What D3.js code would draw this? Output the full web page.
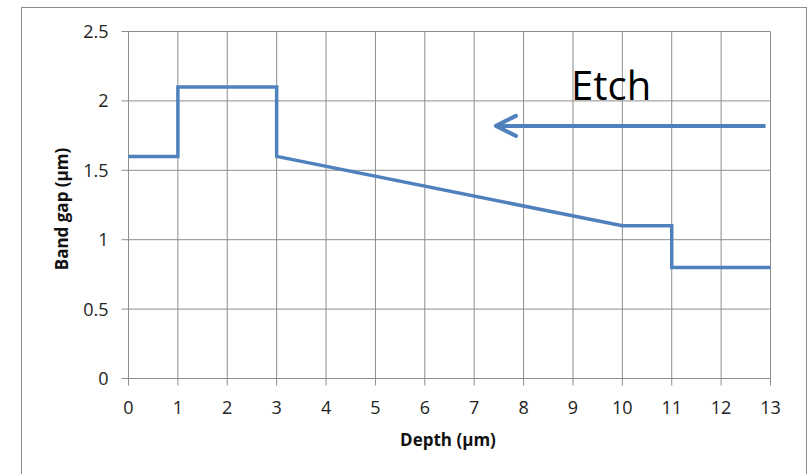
<!DOCTYPE html>
<html>
<head>
<meta charset="utf-8">
<script src="https://cdn.jsdelivr.net/npm/d3@7"></script>
<style>
  html, body { margin: 0; padding: 0; background: #fff; }
  svg { display: block; }
  .tick-label { font-family: "Open Sans", "Liberation Sans", sans-serif; font-size: 18px; fill: #222; }
  .axis-title { font-family: "Open Sans", "Liberation Sans", sans-serif; font-size: 17px; font-weight: bold; fill: #111; }
</style>
</head>
<body>
<script>
// Band gap profile versus depth
const depth = [0, 1, 1, 3, 3, 10, 11, 11, 13];
const bandGap = [1.6, 1.6, 2.1, 2.1, 1.6, 1.1, 1.1, 0.8, 0.8];
const xTicks = [0, 1, 2, 3, 4, 5, 6, 7, 8, 9, 10, 11, 12, 13];
const yTicks = [0, 0.5, 1, 1.5, 2, 2.5];
const yTickLabels = ["0", "0.5", "1", "1.5", "2", "2.5"];
const etchArrow = { from: 12.9, to: 7.4, level: 1.82 };

const W = 811, H = 474;
const svg = d3.select("body").append("svg").attr("width", W).attr("height", H);

// chart frame
svg.append("rect")
  .attr("x", 21.5).attr("y", 7.5).attr("width", 785).attr("height", 480)
  .attr("fill", "#fff").attr("stroke", "#8c8c8c").attr("stroke-width", 1);

const x = d3.scaleLinear().domain([0, 13]).range([128.5, 770.5]);
const y = d3.scaleLinear().domain([0, 2.5]).range([378.5, 31.5]);

const grid = svg.append("g").attr("stroke", "#8e8e8e").attr("stroke-width", 1);
grid.selectAll(".gx").data(xTicks).join("line")
  .attr("x1", d => x(d)).attr("x2", d => x(d))
  .attr("y1", y(2.5)).attr("y2", y(0) + 7);
grid.selectAll(".gy").data(yTicks).join("line")
  .attr("x1", x(0) - 7).attr("x2", x(13))
  .attr("y1", d => y(d)).attr("y2", d => y(d));

// y tick labels
svg.append("g").selectAll("text").data(yTicks).join("text")
  .attr("class", "tick-label")
  .attr("x", x(0) - 20).attr("y", d => y(d))
  .attr("dy", "0.36em").attr("text-anchor", "end")
  .text((d, i) => yTickLabels[i]);

// x tick labels
svg.append("g").selectAll("text").data(xTicks).join("text")
  .attr("class", "tick-label")
  .attr("x", d => x(d)).attr("y", y(0) + 35.5)
  .attr("text-anchor", "middle")
  .text(d => d);

// axis titles
svg.append("text").attr("class", "axis-title")
  .attr("x", 448).attr("y", 446)
  .attr("text-anchor", "middle").text("Depth (µm)");
svg.append("text").attr("class", "axis-title")
  .attr("transform", "translate(68,209) rotate(-90)")
  .attr("text-anchor", "middle").text("Band gap (µm)");

// profile line
const line = d3.line().x((d, i) => x(depth[i])).y((d, i) => y(bandGap[i]));
svg.append("path").datum(depth)
  .attr("d", line)
  .attr("fill", "none").attr("stroke", "#4f81bd")
  .attr("stroke-width", 3.5).attr("stroke-linejoin", "miter");

// etch direction arrow
const ay = y(etchArrow.level);
const tipX = x(etchArrow.to);
svg.append("line")
  .attr("x1", x(etchArrow.from)).attr("x2", tipX + 2)
  .attr("y1", ay).attr("y2", ay)
  .attr("stroke", "#4f81bd").attr("stroke-width", 4);
svg.append("path")
  .attr("d", `M${tipX + 22},${ay - 10} L${tipX + 2},${ay} L${tipX + 22},${ay + 10}`)
  .attr("fill", "none").attr("stroke", "#4f81bd").attr("stroke-width", 4)
  .attr("stroke-linecap", "round").attr("stroke-linejoin", "round");

svg.append("text")
  .attr("x", 571).attr("y", 100)
  .attr("font-family", "Open Sans, Liberation Sans, sans-serif")
  .attr("font-size", 40).attr("fill", "#000")
  .text("Etch");
</script>
</body>
</html>
